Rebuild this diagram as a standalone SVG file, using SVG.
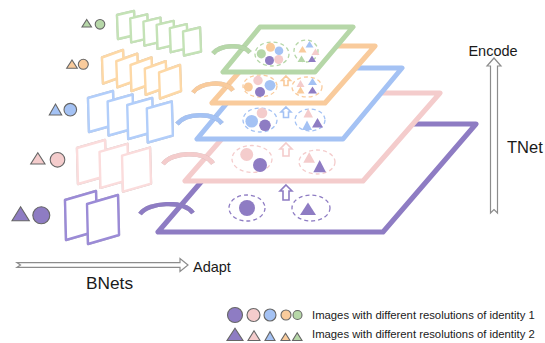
<svg xmlns="http://www.w3.org/2000/svg" xmlns:xlink="http://www.w3.org/1999/xlink" width="545" height="343" viewBox="0 0 545 343">
  <defs>
    <style>
      .lbl { font-family: "Liberation Sans", Arial, sans-serif; fill: #1a1a1a; }
      .plane { fill: #fff; stroke-width: 5; stroke-linejoin: round; }
      .frame { fill: #fff; stroke-width: 2.4; stroke-linejoin: round; filter: url(#halo); }
      .arc { fill: none; stroke-width: 4.5; stroke-linecap: butt; filter: url(#halo); }
      .ring { fill: none; stroke-width: 1.3; stroke-dasharray: 4 3; }
      .up { fill: #fff; stroke-width: 1.6; stroke-linejoin: miter; }
      .sym { stroke: #666; stroke-width: 1.1; }
      .big { fill: #fff; stroke: #8c8c8c; stroke-width: 1.2; }
      .pu { stroke: #8e7cc3; } .pk { stroke: #f4cccc; } .bl { stroke: #a4c2f4; } .or { stroke: #f9cb9c; } .gr { stroke: #b6d7a8; }
      .fpu { fill: #8e7cc3; } .fpk { fill: #f4cccc; } .fbl { fill: #a4c2f4; } .for { fill: #f9cb9c; } .fgr { fill: #b6d7a8; }
    </style>
    <filter id="halo" x="-20%" y="-20%" width="140%" height="140%">
      <feDropShadow dx="0" dy="0" stdDeviation="0.6" flood-color="#888" flood-opacity="0.6"/>
    </filter>
    <!-- skewed image frames, one size per resolution -->
    <path id="frGreen" d="M0,0 L17,-4 L18,20 L1,24 Z"/>
    <path id="frOrange" d="M0,0 L21,-7.5 L22,18.5 L1,26 Z"/>
    <path id="frBlue" d="M0,0 L25,-7 L26,27 L1,34 Z"/>
    <path id="frPink" d="M0,0 L28,-8 L29,28 L1,36 Z"/>
    <path id="frPurple" d="M0,0 L31,-9 L32,31 L1,40 Z"/>
  </defs>

  <rect width="545" height="343" fill="#fff"/>

  <!-- BNets: stacks of input images per resolution -->
  <g id="bnet-green">
    <polygon class="sym fgr" points="82,27 91.5,27 86.7,19.5"/>
    <circle class="sym fgr" cx="100" cy="24.3" r="4.8"/>
    <g class="frame" style="stroke:#c4e2b6">
      <use xlink:href="#frGreen" x="117" y="15"/>
      <use xlink:href="#frGreen" x="130.2" y="18.3"/>
      <use xlink:href="#frGreen" x="143.4" y="21.6"/>
      <use xlink:href="#frGreen" x="156.6" y="24.9"/>
      <use xlink:href="#frGreen" x="169.8" y="28.2"/>
      <use xlink:href="#frGreen" x="183" y="31.5"/>
    </g>
  </g>
  <g id="bnet-orange">
    <polygon class="sym for" points="66.7,68.3 77.3,68.3 72,60"/>
    <circle class="sym for" cx="83.3" cy="64.3" r="5"/>
    <g class="frame" style="stroke:#fdd8a6">
      <use xlink:href="#frOrange" x="102" y="57.5"/>
      <use xlink:href="#frOrange" x="116.25" y="61.25"/>
      <use xlink:href="#frOrange" x="130.5" y="65"/>
      <use xlink:href="#frOrange" x="144.75" y="68.75"/>
      <use xlink:href="#frOrange" x="159" y="72.5"/>
    </g>
  </g>
  <g id="bnet-blue">
    <polygon class="sym fbl" points="49.3,115 61.7,115 55.5,104"/>
    <circle class="sym fbl" cx="70.3" cy="109.7" r="6.3"/>
    <g class="frame" style="stroke:#b2cefa">
      <use xlink:href="#frBlue" x="88" y="98"/>
      <use xlink:href="#frBlue" x="107.6" y="101.5"/>
      <use xlink:href="#frBlue" x="127.2" y="105"/>
      <use xlink:href="#frBlue" x="146.8" y="108.5"/>
    </g>
  </g>
  <g id="bnet-pink">
    <polygon class="sym fpk" points="30.7,164 45,164 37.8,152.7"/>
    <circle class="sym fpk" cx="57.5" cy="159.8" r="7.3"/>
    <g class="frame" style="stroke:#fbdcdc">
      <use xlink:href="#frPink" x="77" y="148"/>
      <use xlink:href="#frPink" x="99.5" y="151.8"/>
      <use xlink:href="#frPink" x="122" y="155.6"/>
    </g>
  </g>
  <g id="bnet-purple">
    <polygon class="sym fpu" points="12,220.7 29.3,220.7 20.6,206.7"/>
    <circle class="sym fpu" cx="41.3" cy="215.3" r="8.5"/>
    <g class="frame" style="stroke:#9b8bd6">
      <use xlink:href="#frPurple" x="65" y="200"/>
      <use xlink:href="#frPurple" x="87" y="204"/>
    </g>
  </g>

  <!-- TNet: stacked resolution planes, lowest resolution on top -->
  <g id="plane-purple">
    <path class="plane pu" d="M158,232 L383,232 L476,124 L251,124 Z"/>
    <ellipse class="ring pu" cx="247" cy="208" rx="18" ry="13"/>
    <circle class="fpu" cx="247" cy="208" r="8"/>
    <ellipse class="ring pu" cx="311" cy="208" rx="19" ry="13"/>
    <polygon class="fpu" points="300,215 316,215 308,202.5"/>
  </g>
  <g id="plane-pink">
    <path class="plane pk" d="M185,181 L363,181 L440,93 L262,93 Z"/>
    <ellipse class="ring pk" cx="252" cy="159" rx="20" ry="13.5"/>
    <circle class="fpk" cx="246.7" cy="154.5" r="6.5"/>
    <circle class="fpu" cx="260" cy="165" r="7"/>
    <ellipse class="ring pk" cx="317" cy="162" rx="18" ry="12"/>
    <polygon class="fpk" points="303.3,162.7 315,162.7 309.2,152.3"/>
    <polygon class="fpu" points="313.3,172.3 326,172.3 319.7,160"/>
  </g>
  <g id="plane-blue">
    <path class="plane bl" d="M197,139 L343,139 L402,68 L256,68 Z"/>
    <ellipse class="ring bl" cx="260" cy="120" rx="17" ry="12"/>
    <circle class="fpk" cx="262" cy="113" r="5.3"/>
    <circle class="fbl" cx="251.7" cy="121.3" r="6.3"/>
    <circle class="fpu" cx="265" cy="125.3" r="5.8"/>
    <ellipse class="ring bl" cx="310" cy="120" rx="15" ry="11"/>
    <polygon class="fpk" points="303.5,117.5 313,117.5 308.2,108.5"/>
    <polygon class="fbl" points="302,130 312,130 307,120.5"/>
    <polygon class="fpu" points="312,127.5 323,127.5 317.5,118"/>
  </g>
  <g id="plane-orange">
    <path class="plane or" d="M212,103 L325,103 L375,46 L262,46 Z"/>
    <ellipse class="ring or" cx="260" cy="86" rx="17" ry="11"/>
    <circle class="for" cx="248.3" cy="87" r="4.5"/>
    <circle class="fpk" cx="258" cy="80.5" r="4.7"/>
    <circle class="fbl" cx="270" cy="85.3" r="5.4"/>
    <circle class="fpu" cx="260" cy="92" r="5"/>
    <ellipse class="ring or" cx="307" cy="87" rx="15" ry="10"/>
    <polygon class="fpk" points="296.5,87 304.5,87 300.5,80"/>
    <polygon class="fbl" points="308,85 317,85 312.5,78"/>
    <polygon class="for" points="296.5,93.5 304.5,93.5 300.5,86.5"/>
    <polygon class="fpu" points="308,93.5 317,93.5 312.5,86.5"/>
  </g>
  <g id="plane-green">
    <path class="plane gr" d="M223,72 L315,72 L353,27 L260,27 Z"/>
    <ellipse class="ring gr" cx="272" cy="54" rx="17" ry="12"/>
    <circle class="fgr" cx="261.3" cy="53.8" r="4.6"/>
    <circle class="for" cx="270.5" cy="47.2" r="4.5"/>
    <circle class="fbl" cx="279" cy="50.8" r="4.3"/>
    <circle class="fpu" cx="269.5" cy="60.5" r="4.5"/>
    <circle class="fpk" cx="278.7" cy="59.5" r="4.5"/>
    <ellipse class="ring gr" cx="306" cy="51" rx="12" ry="11"/>
    <polygon class="fbl" points="305.5,47.5 313.5,47.5 309.5,41"/>
    <polygon class="for" points="298.5,52.5 306.5,52.5 302.5,46"/>
    <polygon class="fpk" points="311.5,55 319.5,55 315.5,48.5"/>
    <polygon class="fgr" points="297.5,62 305.5,62 301.5,55.5"/>
    <polygon class="fpu" points="308,62 316,62 312,55.5"/>
  </g>

  <!-- connectors: adapt arcs, encode arrows, axes -->
  <g id="connectors">
    <path class="arc gr" d="M213,53.5 C220,45 242,43 250,52.5"/>
    <path class="arc or" d="M193,92.5 C201,82 225,80 233,90.5"/>
    <path class="arc bl" d="M177,124 C186,113 213,112 222,123.5"/>
    <path class="arc pk" d="M163,164 C172,152 204,150 213,163.5"/>
    <path class="arc pu" d="M140,214 C149,202 183,200 193,213"/>

    <path class="up pu" d="M286,185 L292,191 L289,191 L289,200 L283,200 L283,191 L280,191 Z"/>
    <path class="up pk" d="M286,143 L292,149 L289,149 L289,156 L283,156 L283,149 L280,149 Z"/>
    <path class="up bl" d="M286,107 L291,112 L288.5,112 L288.5,117.5 L283.5,117.5 L283.5,112 L281,112 Z"/>
    <path class="up or" d="M286,76 L290.5,80.5 L288,80.5 L288,85.5 L284,85.5 L284,80.5 L281.5,80.5 Z"/>

    <path class="big" d="M494,58 L501,66 L497.5,66 L497.5,213 L494,209.5 L490.5,213 L490.5,66 L487,66 Z"/>
    <path class="big" d="M17,262.7 L180,262.7 L180,258.5 L188,265 L180,271.5 L180,267.3 L17,267.3 L20.5,265 Z"/>
  </g>

  <g id="axis-labels">
    <text class="lbl" x="493" y="56" font-size="14.5" text-anchor="middle">Encode</text>
    <text class="lbl" x="507" y="153" font-size="16.5">TNet</text>
    <text class="lbl" x="193" y="272" font-size="14.5">Adapt</text>
    <text class="lbl" x="86" y="288.5" font-size="17.3">BNets</text>
  </g>

  <g id="legend">
    <circle class="sym fpu" cx="235" cy="315" r="7.5"/>
    <circle class="sym fpk" cx="253.5" cy="315" r="6.5"/>
    <circle class="sym fbl" cx="270" cy="315" r="6"/>
    <circle class="sym for" cx="286" cy="315" r="5"/>
    <circle class="sym fgr" cx="297.5" cy="315" r="4.5"/>
    <polygon class="sym fpu" points="227,340.5 243,340.5 235,328.3"/>
    <polygon class="sym fpk" points="248,340.5 260,340.5 254,330.7"/>
    <polygon class="sym fbl" points="265,340.5 275,340.5 270,331.7"/>
    <polygon class="sym for" points="281,340.5 290,340.5 285.5,333.3"/>
    <polygon class="sym fgr" points="292.5,340.5 302,340.5 297.2,332.7"/>
    <text class="lbl" x="312" y="319" font-size="11.3">Images with different resolutions of identity 1</text>
    <text class="lbl" x="312" y="337.5" font-size="11.3">Images with different resolutions of identity 2</text>
  </g>
</svg>
